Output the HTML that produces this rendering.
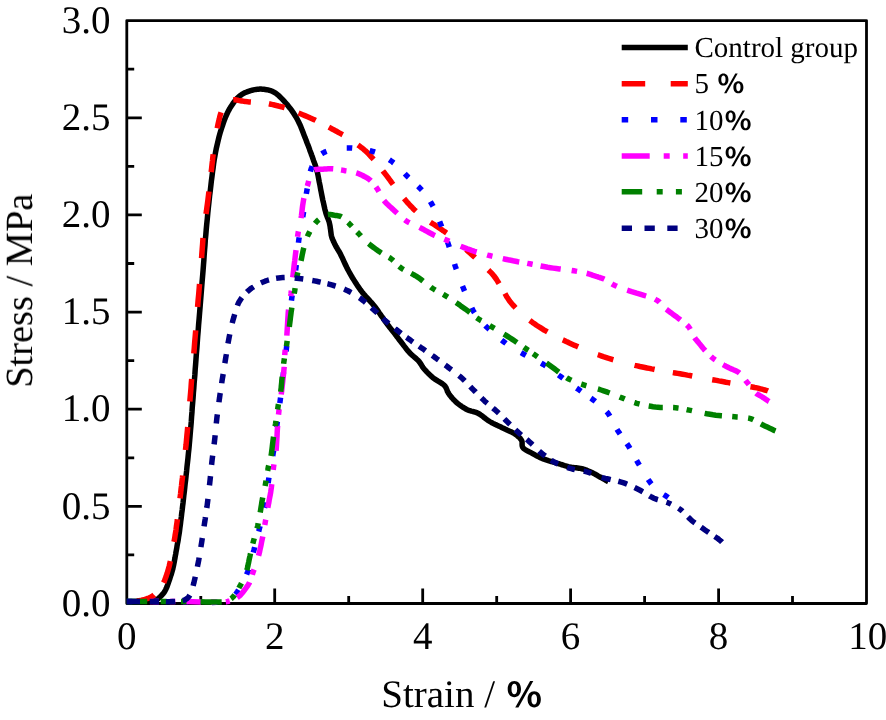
<!DOCTYPE html>
<html><head><meta charset="utf-8"><title>Stress-Strain</title>
<style>html,body{margin:0;padding:0;background:#fff}svg{display:block}text{text-rendering:geometricPrecision}</style></head>
<body>
<svg width="886" height="720" viewBox="0 0 886 720">
<rect width="886" height="720" fill="#fff"/>
<g stroke="#000" stroke-width="2.8" fill="none" stroke-linejoin="round">
<rect x="126.8" y="20.6" width="739.7" height="582.9"/>
<path d="M200.8 603.5v-7.4M274.7 603.5v-15M348.7 603.5v-7.4M422.7 603.5v-15M496.7 603.5v-7.4M570.6 603.5v-15M644.6 603.5v-7.4M718.6 603.5v-15M792.5 603.5v-7.4M126.8 554.9h7.4M126.8 506.4h15M126.8 457.8h7.4M126.8 409.2h15M126.8 360.6h7.4M126.8 312.1h15M126.8 263.5h7.4M126.8 214.9h15M126.8 166.3h7.4M126.8 117.8h15M126.8 69.2h7.4"/>
</g>
<g fill="none" stroke-linejoin="round" stroke-linecap="butt" stroke-width="5.5">
<path d="M126.8 601.5L127.2 601.5L128.3 601.5L129.9 601.5L131.9 601.5L134.0 601.5L136.2 601.5L138.3 601.5L140.0 601.5L141.3 601.5L142.7 601.5L144.0 601.5L145.3 601.5L146.5 601.5L147.8 601.4L148.9 601.4L150.0 601.3L150.8 601.2L151.5 601.2L152.2 601.1L152.9 601.0L153.5 600.9L154.2 600.8L154.8 600.6L155.4 600.4L156.0 600.1L156.6 599.8L157.2 599.4L157.8 599.0L158.3 598.5L158.9 598.0L159.4 597.5L160.0 597.0L160.6 596.4L161.3 595.7L161.9 595.0L162.6 594.3L163.2 593.6L163.8 592.8L164.4 592.0L164.9 591.1L165.5 590.0L166.1 588.8L166.6 587.6L167.1 586.4L167.6 585.1L168.1 583.7L168.5 582.4L169.0 581.0L169.6 579.4L170.1 577.8L170.6 576.1L171.2 574.5L171.7 572.7L172.2 571.0L172.7 569.3L173.1 567.5L173.5 565.6L173.9 563.7L174.3 561.8L174.6 559.9L175.0 557.9L175.3 556.0L175.7 554.0L176.0 552.0L176.4 549.9L176.8 547.8L177.1 545.7L177.5 543.6L177.9 541.4L178.3 539.2L178.6 536.9L179.0 534.5L179.5 531.3L179.9 527.9L180.4 524.4L180.8 520.8L181.3 517.1L181.7 513.4L182.2 509.8L182.6 506.1L183.1 502.3L183.5 498.6L183.9 494.8L184.4 491.0L184.8 487.1L185.2 483.3L185.7 479.4L186.1 475.4L186.6 471.1L187.0 466.8L187.5 462.4L188.0 457.9L188.4 453.5L188.9 449.0L189.3 444.5L189.7 440.0L190.1 435.3L190.5 430.6L190.9 425.9L191.3 421.2L191.6 416.4L192.0 411.7L192.3 406.9L192.7 402.2L193.1 397.5L193.4 392.9L193.8 388.2L194.1 383.6L194.5 378.9L194.9 374.2L195.2 369.4L195.6 364.5L196.0 359.0L196.4 353.5L196.9 347.8L197.3 342.1L197.7 336.4L198.2 330.6L198.6 324.8L199.1 319.0L199.6 312.9L200.1 306.8L200.6 300.5L201.1 294.3L201.6 288.1L202.1 281.9L202.6 275.9L203.1 270.0L203.5 264.8L203.9 259.8L204.2 254.8L204.6 249.9L205.0 245.0L205.3 240.1L205.8 235.1L206.2 230.0L206.7 224.5L207.3 218.8L207.8 213.1L208.4 207.3L209.0 201.6L209.6 196.0L210.3 190.5L210.9 185.2L211.4 180.8L212.0 176.4L212.5 172.2L213.1 168.0L213.6 163.9L214.2 159.8L214.9 155.9L215.6 152.1L216.2 148.9L216.9 145.8L217.6 142.8L218.3 139.9L219.0 137.0L219.8 134.1L220.6 131.3L221.5 128.5L222.4 125.8L223.3 123.2L224.2 120.6L225.2 118.0L226.3 115.4L227.4 113.0L228.6 110.6L229.8 108.4L231.0 106.5L232.2 104.7L233.4 102.9L234.7 101.2L236.1 99.5L237.5 98.0L238.9 96.6L240.4 95.4L241.8 94.4L243.2 93.6L244.7 92.8L246.2 92.2L247.7 91.6L249.2 91.1L250.7 90.6L252.2 90.2L253.5 89.9L254.8 89.6L256.0 89.4L257.3 89.3L258.6 89.2L259.8 89.1L261.1 89.1L262.4 89.2L263.8 89.3L265.2 89.5L266.6 89.7L268.0 89.9L269.4 90.3L270.8 90.7L272.2 91.3L273.5 91.9L275.1 92.8L276.6 93.9L278.1 95.1L279.6 96.5L281.0 97.9L282.5 99.4L283.9 100.9L285.3 102.5L286.9 104.3L288.4 106.2L290.0 108.2L291.5 110.2L293.0 112.3L294.4 114.5L295.8 116.7L297.1 119.0L298.4 121.5L299.7 124.2L300.9 126.9L302.0 129.7L303.1 132.6L304.2 135.4L305.3 138.1L306.3 140.8L307.2 143.2L308.2 145.6L309.1 148.0L309.9 150.4L310.8 152.7L311.6 155.0L312.4 157.1L313.1 159.2L313.6 160.7L314.1 162.0L314.6 163.3L315.0 164.5L315.5 165.8L315.9 167.1L316.4 168.5L316.8 170.1L317.5 172.7L318.1 175.7L318.7 178.9L319.3 182.2L320.0 185.5L320.6 188.9L321.2 192.1L321.8 195.1L322.3 197.6L322.8 200.1L323.4 202.5L323.9 204.9L324.4 207.2L324.9 209.4L325.5 211.5L326.0 213.5L326.4 214.8L326.9 216.0L327.3 217.2L327.8 218.3L328.2 219.3L328.6 220.4L329.0 221.4L329.3 222.5L329.5 223.5L329.7 224.4L329.9 225.4L330.1 226.3L330.2 227.2L330.3 228.2L330.5 229.1L330.6 230.0L330.7 230.8L330.8 231.6L330.9 232.4L331.0 233.2L331.1 234.0L331.2 234.8L331.4 235.7L331.6 236.5L331.9 237.6L332.3 238.7L332.8 239.8L333.3 241.0L333.8 242.1L334.4 243.3L334.9 244.4L335.5 245.5L336.0 246.5L336.6 247.5L337.2 248.4L337.7 249.4L338.3 250.4L338.9 251.4L339.6 252.4L340.2 253.6L341.1 255.4L342.1 257.4L343.1 259.6L344.1 261.8L345.1 264.0L346.2 266.3L347.3 268.6L348.5 270.8L349.8 273.2L351.2 275.6L352.6 278.0L354.1 280.4L355.6 282.8L357.1 285.1L358.7 287.4L360.3 289.7L362.0 291.9L363.7 294.0L365.5 296.1L367.4 298.1L369.2 300.1L371.0 302.2L372.8 304.2L374.5 306.3L376.1 308.3L377.6 310.4L379.0 312.5L380.5 314.6L381.9 316.7L383.4 318.7L384.8 320.8L386.3 322.8L387.8 324.8L389.2 326.7L390.7 328.6L392.2 330.5L393.7 332.4L395.2 334.3L396.6 336.2L398.1 338.1L399.5 340.0L400.9 341.8L402.4 343.7L403.8 345.6L405.2 347.4L406.6 349.2L408.0 350.9L409.4 352.5L410.6 353.7L411.9 354.9L413.1 356.0L414.4 357.1L415.6 358.1L416.8 359.2L417.9 360.2L418.9 361.3L419.6 362.2L420.2 363.0L420.7 363.9L421.3 364.8L421.8 365.6L422.3 366.5L422.9 367.4L423.6 368.3L424.6 369.5L425.7 370.7L426.8 371.9L428.0 373.1L429.2 374.3L430.5 375.5L431.8 376.7L433.1 377.8L434.5 378.9L436.1 379.9L437.7 380.9L439.4 381.9L441.0 382.9L442.5 383.9L443.8 384.9L444.9 386.0L445.5 386.8L446.0 387.7L446.4 388.6L446.8 389.5L447.1 390.4L447.4 391.3L447.9 392.2L448.4 393.1L449.2 394.3L450.1 395.5L451.1 396.7L452.1 398.0L453.2 399.2L454.4 400.4L455.5 401.5L456.7 402.6L457.9 403.6L459.2 404.6L460.5 405.6L461.8 406.5L463.2 407.4L464.5 408.2L465.9 409.0L467.3 409.7L468.6 410.3L469.9 410.7L471.2 411.1L472.6 411.4L473.9 411.8L475.2 412.1L476.6 412.6L477.9 413.2L479.4 414.0L480.8 415.0L482.3 416.0L483.7 417.2L485.2 418.3L486.6 419.4L488.1 420.5L489.7 421.5L491.4 422.5L493.1 423.4L494.9 424.3L496.8 425.1L498.6 426.0L500.4 426.8L502.2 427.7L503.9 428.5L505.5 429.3L507.0 430.0L508.6 430.7L510.2 431.4L511.7 432.1L513.1 432.9L514.5 433.7L515.7 434.5L516.6 435.2L517.5 435.9L518.3 436.6L519.1 437.3L519.9 438.0L520.5 438.8L521.1 439.6L521.6 440.4L521.9 441.2L522.1 442.1L522.1 443.0L522.1 443.9L522.1 444.9L522.2 445.8L522.4 446.6L522.8 447.4L523.5 448.3L524.5 449.1L525.6 449.9L526.9 450.6L528.2 451.3L529.5 451.9L530.9 452.6L532.2 453.3L533.6 454.1L535.0 454.9L536.5 455.7L538.0 456.4L539.5 457.2L541.0 457.9L542.5 458.6L544.0 459.2L545.4 459.7L546.9 460.2L548.3 460.7L549.8 461.1L551.3 461.5L552.8 461.9L554.3 462.4L555.8 462.8L557.5 463.3L559.3 463.9L561.1 464.5L562.9 465.0L564.7 465.6L566.5 466.1L568.3 466.6L570.0 467.0L571.5 467.3L573.0 467.5L574.6 467.7L576.1 467.8L577.5 468.0L579.0 468.2L580.4 468.4L581.8 468.7L583.1 469.0L584.3 469.4L585.5 469.8L586.7 470.2L587.8 470.7L589.0 471.2L590.2 471.7L591.3 472.2L592.4 472.7L593.5 473.3L594.6 473.9L595.7 474.5L596.8 475.1L597.9 475.8L598.9 476.4L600.0 477.0L601.2 477.7L602.5 478.4L603.9 479.2L605.2 479.9L606.4 480.6L607.4 481.2L608.1 481.6L608.3 481.7" stroke="#000"/>
<path d="M126.8 601.5L127.1 601.5L127.9 601.5L129.2 601.5L130.7 601.4L132.3 601.4L134.0 601.3L135.6 601.1L137.0 601.0L138.2 600.8L139.3 600.6L140.5 600.4L141.7 600.2L142.8 599.9L143.9 599.6L145.0 599.3L146.0 599.0L146.8 598.7L147.6 598.5L148.4 598.2L149.2 597.9L149.9 597.6L150.6 597.3L151.3 596.9L152.0 596.5L152.7 596.0L153.3 595.5L154.0 595.0L154.6 594.4L155.2 593.8L155.8 593.2L156.4 592.6L157.0 592.0L157.6 591.4L158.2 590.8L158.7 590.3L159.3 589.7L159.8 589.1L160.4 588.4L160.9 587.7L161.4 587.0L162.0 586.0L162.5 585.0L163.1 584.0L163.6 582.8L164.1 581.7L164.6 580.5L165.0 579.2L165.5 578.0L166.1 576.5L166.6 574.9L167.2 573.2L167.7 571.5L168.2 569.7L168.7 568.0L169.2 566.2L169.6 564.5L170.0 562.7L170.4 561.0L170.8 559.2L171.1 557.4L171.5 555.6L171.8 553.7L172.2 551.9L172.5 550.0L172.9 548.0L173.3 545.9L173.6 543.9L174.0 541.9L174.4 539.8L174.8 537.6L175.1 535.3L175.5 533.0L176.0 529.8L176.4 526.5L176.9 523.1L177.4 519.5L177.8 515.9L178.3 512.3L178.8 508.6L179.2 505.0L179.7 501.2L180.1 497.4L180.6 493.6L181.0 489.7L181.5 485.8L181.9 481.9L182.4 478.0L182.8 474.0L183.3 469.8L183.7 465.7L184.2 461.5L184.7 457.2L185.2 453.0L185.6 448.7L186.1 444.4L186.5 440.0L186.9 435.4L187.4 430.6L187.8 425.9L188.2 421.1L188.6 416.3L189.0 411.5L189.4 406.8L189.8 402.0L190.2 397.3L190.6 392.7L191.0 388.1L191.3 383.5L191.7 378.8L192.1 374.1L192.5 369.4L192.9 364.5L193.3 359.0L193.8 353.5L194.3 347.8L194.7 342.1L195.2 336.4L195.7 330.6L196.1 324.8L196.6 319.0L197.1 312.9L197.6 306.8L198.1 300.5L198.7 294.3L199.2 288.1L199.7 281.9L200.2 275.9L200.7 270.0L201.1 264.7L201.5 259.5L201.8 254.3L202.2 249.2L202.6 244.2L202.9 239.3L203.3 234.6L203.8 230.0L204.2 226.5L204.6 223.2L205.1 220.1L205.5 217.0L206.0 213.9L206.5 210.8L206.9 207.5L207.4 204.0L208.0 199.3L208.6 194.3L209.2 189.1L209.8 183.8L210.4 178.6L211.0 173.4L211.6 168.5L212.1 163.9L212.5 160.6L212.8 157.4L213.2 154.4L213.5 151.4L213.8 148.5L214.2 145.7L214.6 142.8L215.0 140.0L215.4 137.4L215.9 134.8L216.4 132.3L216.9 129.7L217.4 127.3L217.9 124.9L218.4 122.6L218.9 120.5L219.3 119.0L219.6 117.6L219.9 116.2L220.3 114.8L220.7 113.5L221.1 112.3L221.5 111.1L222.0 110.0L222.4 109.1L222.9 108.3L223.4 107.5L223.9 106.7L224.4 106.0L225.0 105.3L225.6 104.6L226.3 104.0L227.0 103.3L227.8 102.7L228.7 102.1L229.6 101.5L230.5 101.0L231.4 100.5L232.4 100.2L233.3 99.9L234.3 99.8L235.3 99.8L236.3 99.9L237.3 100.1L238.4 100.4L239.5 100.6L240.5 100.8L241.6 101.0L242.7 101.1L243.9 101.3L245.0 101.4L246.2 101.6L247.4 101.7L248.6 101.9L249.8 102.0L251.0 102.1L252.4 102.2L253.7 102.3L255.2 102.4L256.6 102.4L258.0 102.5L259.4 102.6L260.7 102.7L262.0 102.8L262.9 102.9L263.8 103.0L264.7 103.1L265.5 103.2L266.4 103.4L267.2 103.5L268.0 103.6L268.9 103.8L269.8 104.0L270.7 104.2L271.6 104.4L272.6 104.6L273.5 104.8L274.4 105.0L275.4 105.3L276.3 105.5L277.3 105.7L278.3 106.0L279.4 106.2L280.4 106.5L281.5 106.8L282.5 107.0L283.5 107.3L284.4 107.6L285.1 107.8L285.8 108.1L286.5 108.3L287.1 108.6L287.7 108.8L288.4 109.1L289.2 109.4L290.0 109.7L291.7 110.4L293.7 111.1L295.8 112.0L298.1 112.9L300.4 113.8L302.7 114.7L304.9 115.6L307.0 116.5L308.7 117.2L310.4 118.0L312.0 118.7L313.6 119.4L315.1 120.1L316.7 120.9L318.3 121.7L320.0 122.5L321.9 123.5L323.8 124.4L325.8 125.5L327.7 126.5L329.7 127.6L331.6 128.7L333.6 129.7L335.5 130.8L337.4 131.8L339.3 132.9L341.2 133.9L343.1 134.9L344.9 136.0L346.7 137.0L348.4 138.0L350.0 139.0L351.1 139.8L352.2 140.5L353.2 141.3L354.2 142.0L355.1 142.8L356.1 143.5L357.0 144.3L358.0 145.0L359.0 145.7L359.9 146.4L360.8 147.1L361.7 147.8L362.7 148.5L363.6 149.3L364.5 150.1L365.5 150.9L366.7 152.0L367.8 153.1L369.0 154.3L370.2 155.6L371.3 156.9L372.5 158.2L373.8 159.6L375.0 161.0L376.6 162.8L378.2 164.8L379.8 166.9L381.5 169.0L383.1 171.2L384.8 173.3L386.4 175.4L387.9 177.4L389.2 179.2L390.5 180.9L391.7 182.6L393.0 184.3L394.2 186.0L395.4 187.6L396.7 189.3L398.0 191.0L399.4 192.8L400.9 194.6L402.3 196.4L403.8 198.2L405.3 200.0L406.8 201.8L408.4 203.5L409.9 205.2L411.4 206.7L412.8 208.2L414.3 209.7L415.8 211.1L417.3 212.5L418.8 213.8L420.4 215.2L422.0 216.5L423.8 217.8L425.6 219.1L427.5 220.4L429.4 221.6L431.3 222.8L433.2 224.0L435.1 225.2L437.0 226.5L438.9 227.8L440.7 229.0L442.6 230.3L444.5 231.5L446.3 232.8L448.2 234.1L450.1 235.5L452.0 237.0L454.2 238.8L456.5 240.8L458.9 242.8L461.2 244.9L463.5 247.0L465.7 249.1L467.9 251.1L470.0 253.0L471.6 254.5L473.2 255.9L474.7 257.2L476.2 258.6L477.6 259.9L479.1 261.2L480.5 262.6L482.0 264.0L483.5 265.5L485.1 266.9L486.7 268.4L488.2 269.9L489.8 271.4L491.3 272.9L492.7 274.4L494.0 276.0L495.1 277.5L496.2 279.0L497.2 280.6L498.2 282.2L499.1 283.7L500.1 285.3L501.0 286.9L502.0 288.5L503.0 290.1L503.9 291.7L504.9 293.4L505.8 295.0L506.7 296.7L507.8 298.3L508.8 299.9L510.0 301.5L511.4 303.2L512.9 305.0L514.5 306.7L516.1 308.4L517.8 310.1L519.5 311.8L521.2 313.4L523.0 315.0L524.8 316.6L526.7 318.1L528.6 319.6L530.6 321.0L532.5 322.4L534.5 323.8L536.5 325.2L538.5 326.5L540.4 327.7L542.3 328.9L544.2 330.1L546.2 331.2L548.1 332.3L550.1 333.4L552.0 334.4L554.0 335.5L556.0 336.5L558.0 337.6L560.1 338.6L562.1 339.6L564.2 340.5L566.2 341.5L568.3 342.4L570.4 343.4L572.6 344.4L574.7 345.4L576.9 346.3L579.1 347.3L581.3 348.3L583.6 349.2L585.8 350.1L588.0 351.0L590.2 351.9L592.4 352.7L594.5 353.5L596.7 354.3L598.9 355.0L601.1 355.8L603.3 356.6L605.6 357.3L608.0 358.1L610.4 358.8L612.8 359.6L615.2 360.3L617.6 361.0L620.1 361.7L622.6 362.4L625.0 363.0L627.5 363.6L629.9 364.2L632.4 364.8L634.9 365.4L637.4 365.9L639.9 366.5L642.4 367.0L644.8 367.5L647.1 368.0L649.4 368.4L651.6 368.9L653.9 369.3L656.2 369.8L658.4 370.2L660.7 370.6L663.0 371.0L665.4 371.4L667.8 371.8L670.3 372.2L672.7 372.6L675.2 373.0L677.6 373.4L680.1 373.8L682.5 374.2L684.9 374.6L687.4 375.1L689.8 375.5L692.3 376.0L694.7 376.4L697.1 376.9L699.6 377.4L702.0 377.8L704.4 378.2L706.8 378.7L709.3 379.1L711.7 379.6L714.1 380.0L716.5 380.4L718.9 380.9L721.3 381.3L723.7 381.7L726.0 382.2L728.3 382.6L730.7 383.0L733.0 383.5L735.3 383.9L737.7 384.4L740.0 384.8L742.4 385.2L744.9 385.7L747.4 386.1L749.9 386.6L752.4 387.0L754.7 387.5L757.0 387.9L759.0 388.4L760.4 388.8L761.9 389.2L763.4 389.6L764.8 390.0L766.1 390.4L767.1 390.7L767.8 390.9L768.0 391.0" stroke="#ff0000" stroke-dasharray="0 9.9 18.8 15.5 22.8 19.5 22.9 21 23 25.6 23.2 25.5 22.6 25.7 23.2 23.5 23 25.9 20.3 24.1 22.7 19.6 17.9 26.3 16.4 18.2 17.8 18.1 16.2 14.9 18.7 14.8 15.8 18.4 21.4 14.8 16.9 17.9 17.3 18.3 19.5 25.5 12.1 18.3 17.3 11.5 17.9 19 21.1 17.3 16.9 21.1 16.4 21.9 20.5 18.5 19.7 20.3 18.5 20.4 18 2000"/>
<path d="M126.8 601.5L128.4 601.5L132.7 601.5L139.2 601.5L147.0 601.5L155.7 601.5L164.5 601.5L172.8 601.5L180.0 601.5L186.1 601.6L192.4 601.8L198.9 602.0L205.2 602.2L211.2 602.4L216.6 602.3L221.3 602.1L225.0 601.5L226.2 601.2L227.3 600.8L228.2 600.4L229.1 600.0L229.8 599.6L230.6 599.1L231.3 598.6L232.0 598.0L232.7 597.4L233.4 596.8L234.0 596.2L234.6 595.5L235.2 594.8L235.8 594.1L236.3 593.3L236.9 592.5L237.6 591.5L238.2 590.5L238.9 589.4L239.5 588.2L240.1 587.1L240.7 585.9L241.4 584.7L242.0 583.5L242.7 582.2L243.4 580.8L244.1 579.5L244.8 578.1L245.6 576.7L246.3 575.2L246.9 573.7L247.6 572.0L248.5 569.6L249.3 567.0L250.1 564.2L250.9 561.4L251.7 558.4L252.5 555.5L253.2 552.6L254.0 549.8L254.7 547.1L255.4 544.5L256.1 541.8L256.8 539.1L257.5 536.5L258.1 533.8L258.8 531.2L259.4 528.7L260.0 526.4L260.5 523.9L261.1 521.5L261.6 519.2L262.1 516.9L262.6 514.7L263.1 512.8L263.5 511.0L263.7 510.1L264.0 509.4L264.2 508.7L264.4 508.1L264.6 507.4L264.8 506.7L265.0 505.9L265.2 505.0L265.6 502.7L266.0 499.9L266.4 496.8L266.8 493.5L267.2 490.0L267.6 486.6L268.1 483.3L268.5 480.3L268.9 477.9L269.3 475.5L269.7 473.2L270.1 470.9L270.5 468.7L270.9 466.5L271.3 464.2L271.7 462.0L272.1 459.9L272.4 457.7L272.8 455.7L273.1 453.6L273.5 451.5L273.8 449.4L274.2 447.2L274.5 445.0L274.8 442.5L275.2 440.0L275.5 437.5L275.8 434.9L276.1 432.3L276.4 429.6L276.7 427.0L277.0 424.3L277.4 421.4L277.8 418.5L278.2 415.5L278.6 412.5L279.0 409.5L279.4 406.5L279.8 403.4L280.2 400.4L280.6 397.3L281.0 394.1L281.3 391.0L281.7 387.8L282.1 384.6L282.4 381.4L282.8 378.2L283.2 375.0L283.6 371.7L284.0 368.4L284.4 365.1L284.8 361.8L285.2 358.5L285.6 355.2L286.0 351.9L286.4 348.6L286.8 345.3L287.1 341.9L287.5 338.6L287.8 335.2L288.2 331.9L288.5 328.6L288.9 325.3L289.2 322.0L289.5 318.9L289.8 316.0L290.1 313.0L290.4 310.0L290.7 307.1L291.1 304.1L291.4 301.0L291.8 297.9L292.3 294.3L292.8 290.5L293.3 286.7L293.9 282.8L294.5 278.9L295.0 275.1L295.5 271.3L296.0 267.5L296.4 264.0L296.7 260.5L297.1 257.0L297.4 253.5L297.7 250.1L298.0 246.7L298.4 243.3L298.8 239.9L299.3 236.6L299.8 233.4L300.4 230.2L300.9 227.0L301.5 223.8L302.1 220.6L302.7 217.4L303.2 214.3L303.7 211.3L304.1 208.4L304.6 205.5L305.0 202.5L305.4 199.6L305.9 196.8L306.3 193.9L306.8 191.0L307.3 188.1L307.8 185.2L308.2 182.2L308.7 179.3L309.3 176.4L309.8 173.6L310.5 171.1L311.2 168.7L311.8 167.1L312.3 165.6L312.9 164.1L313.5 162.8L314.2 161.5L314.9 160.2L315.7 159.1L316.5 158.0L317.3 157.1L318.2 156.3L319.1 155.5L320.1 154.8L321.1 154.1L322.1 153.5L323.2 152.9L324.3 152.3L325.5 151.7L326.8 151.2L328.1 150.7L329.4 150.2L330.7 149.8L332.1 149.4L333.6 149.1L335.0 148.8L336.7 148.5L338.6 148.3L340.4 148.1L342.3 148.0L344.3 147.9L346.1 147.9L348.0 147.9L349.7 147.9L351.1 147.9L352.4 148.0L353.7 148.0L354.9 148.1L356.2 148.2L357.4 148.4L358.7 148.5L360.0 148.7L361.5 148.9L363.1 149.2L364.7 149.5L366.3 149.8L367.9 150.1L369.5 150.5L371.0 150.9L372.5 151.3L373.8 151.7L375.0 152.1L376.2 152.6L377.4 153.1L378.5 153.6L379.7 154.1L380.8 154.7L382.0 155.3L383.2 156.0L384.5 156.7L385.7 157.4L387.0 158.2L388.2 159.0L389.4 159.8L390.6 160.6L391.7 161.4L392.7 162.1L393.6 162.9L394.6 163.6L395.5 164.3L396.3 165.1L397.2 165.9L398.1 166.7L399.0 167.5L400.0 168.4L400.9 169.4L401.8 170.4L402.8 171.4L403.7 172.4L404.7 173.5L405.7 174.6L406.8 175.7L408.3 177.2L410.0 178.7L411.7 180.4L413.5 182.0L415.3 183.7L417.0 185.3L418.6 186.8L420.0 188.2L420.9 189.1L421.7 190.0L422.5 190.8L423.2 191.6L423.9 192.4L424.6 193.2L425.3 194.1L426.0 195.0L426.8 196.0L427.5 197.1L428.3 198.2L429.0 199.4L429.7 200.5L430.4 201.7L431.1 202.8L431.8 204.0L432.4 205.2L433.1 206.3L433.7 207.5L434.3 208.7L434.8 209.9L435.4 211.1L436.0 212.3L436.5 213.5L437.0 214.8L437.5 216.0L438.0 217.3L438.5 218.5L439.0 219.8L439.5 221.2L440.0 222.6L440.6 224.1L441.5 226.3L442.4 228.7L443.4 231.2L444.4 233.8L445.4 236.4L446.5 239.1L447.5 241.8L448.4 244.4L449.3 247.1L450.2 249.9L451.1 252.7L451.9 255.4L452.7 258.2L453.6 261.0L454.5 263.8L455.4 266.6L456.4 269.4L457.3 272.1L458.3 274.9L459.3 277.6L460.3 280.3L461.4 283.1L462.4 285.8L463.5 288.5L464.6 291.3L465.8 294.2L466.9 297.1L468.1 300.0L469.3 302.8L470.6 305.5L471.8 308.0L473.0 310.3L473.9 311.8L474.7 313.1L475.6 314.4L476.4 315.6L477.3 316.7L478.2 317.8L479.1 318.9L480.0 320.0L480.8 321.0L481.7 321.9L482.5 322.8L483.3 323.7L484.2 324.6L485.1 325.5L486.1 326.5L487.2 327.5L488.9 329.1L490.8 330.8L492.7 332.6L494.8 334.5L497.0 336.4L499.2 338.2L501.5 340.0L503.7 341.7L506.0 343.4L508.4 345.0L510.9 346.6L513.3 348.1L515.8 349.6L518.4 351.1L520.9 352.6L523.4 354.0L525.9 355.4L528.4 356.7L531.0 358.0L533.6 359.2L536.1 360.5L538.6 361.8L541.1 363.1L543.5 364.5L545.7 365.9L547.9 367.4L550.1 368.9L552.2 370.4L554.3 371.9L556.3 373.5L558.5 375.1L560.6 376.6L562.9 378.2L565.1 379.9L567.4 381.5L569.8 383.2L572.0 384.8L574.3 386.5L576.5 388.1L578.7 389.6L580.6 390.9L582.5 392.3L584.4 393.6L586.2 394.9L588.0 396.1L589.8 397.4L591.4 398.5L593.0 399.7L594.1 400.5L595.2 401.3L596.2 402.1L597.2 402.8L598.2 403.6L599.1 404.4L600.1 405.2L601.0 406.0L602.0 406.9L602.9 407.7L603.8 408.6L604.7 409.5L605.6 410.4L606.5 411.5L607.4 412.5L608.3 413.7L609.5 415.5L610.7 417.5L611.9 419.7L613.1 422.0L614.3 424.3L615.5 426.6L616.7 428.9L618.0 431.0L619.3 432.9L620.6 434.8L621.9 436.7L623.3 438.5L624.6 440.3L625.9 442.2L627.2 444.1L628.5 446.0L629.7 448.0L630.9 450.1L632.1 452.2L633.2 454.3L634.4 456.4L635.6 458.5L636.8 460.7L638.0 462.8L639.4 465.2L640.9 467.7L642.3 470.2L643.9 472.7L645.4 475.2L646.8 477.5L648.3 479.7L649.7 481.7L650.6 483.0L651.5 484.1L652.4 485.2L653.3 486.3L654.2 487.2L655.1 488.2L656.0 489.1L657.0 490.0L658.1 490.9L659.2 491.7L660.4 492.5L661.7 493.3L662.9 494.1L664.0 494.8L665.1 495.4L666.0 496.0L666.5 496.4L667.1 496.7L667.6 497.1L668.1 497.4L668.5 497.7L668.9 498.0L669.1 498.1L669.2 498.2" stroke="#0000ff" stroke-dasharray="5.5 20.9 5.5 23.9 5.5 23.9 5.5 20.5 5.5 17.4 5.5 17.5 5.5 16.2 5.5 19 5.5 19.4 5.5 22.1 5.5 23.6 5.5 18.6 5.5 20.1 5.5 21.1 5.5 21.2 5.5 18.7 5.5 25.2 5.5 22.2 5.5 20.5 5.5 18 5.5 17.3 5.5 16.1 5.5 20.6 5.5 17.7 5.5 16.3 5.5 15.4 5.5 12.7 5.5 14.3 5.5 16.5 5.5 16.3 5.5 17.8 5.5 17.9 5.5 18.3 5.5 16.9 5.5 16.3 5.5 17.7 5.5 17.2 5.5 15.5 5.5 16.8 5.5 12 5.5 15.3 5.5 15.1 5.5 11.9 5.5 13.9 5.5 16.8 5.5 16.3 5.5 2000"/>
<path d="M126.8 601.5L128.4 601.5L132.7 601.5L139.1 601.5L146.9 601.5L155.6 601.5L164.4 601.5L172.8 601.5L180.0 601.5L186.4 601.6L193.1 601.7L200.0 601.9L206.8 602.0L213.2 602.1L218.9 602.1L223.7 601.9L227.4 601.5L228.4 601.3L229.2 601.1L229.9 600.9L230.6 600.6L231.1 600.4L231.7 600.1L232.3 599.8L233.0 599.5L233.8 599.2L234.6 598.8L235.4 598.4L236.2 598.0L237.0 597.6L237.8 597.1L238.6 596.6L239.3 596.1L240.0 595.5L240.7 594.8L241.4 594.0L242.0 593.3L242.7 592.5L243.3 591.6L243.9 590.8L244.5 590.0L245.2 589.1L245.8 588.3L246.4 587.4L247.1 586.5L247.7 585.6L248.3 584.7L248.9 583.7L249.4 582.7L249.9 581.5L250.4 580.3L250.9 579.0L251.3 577.6L251.8 576.3L252.2 575.0L252.6 573.7L253.0 572.4L253.4 571.3L253.8 570.2L254.2 569.2L254.5 568.1L254.9 567.1L255.3 566.1L255.6 565.0L256.0 564.0L256.3 563.0L256.6 562.1L257.0 561.1L257.3 560.2L257.6 559.3L257.9 558.2L258.2 557.2L258.5 556.0L259.0 554.0L259.6 551.7L260.1 549.3L260.7 546.7L261.2 544.2L261.7 541.6L262.2 539.1L262.7 536.8L263.1 534.9L263.4 533.1L263.7 531.4L264.0 529.6L264.3 527.9L264.6 526.2L264.9 524.4L265.2 522.6L265.5 520.7L265.9 518.7L266.2 516.7L266.6 514.7L266.9 512.7L267.3 510.7L267.6 508.7L268.0 506.7L268.4 504.6L268.8 502.6L269.1 500.6L269.5 498.5L269.9 496.5L270.3 494.4L270.7 492.2L271.0 490.0L271.4 487.3L271.7 484.5L272.0 481.6L272.3 478.7L272.6 475.8L272.9 472.9L273.2 470.1L273.5 467.4L273.8 465.2L274.1 463.2L274.5 461.2L274.8 459.3L275.1 457.3L275.4 455.3L275.7 453.2L276.0 451.0L276.3 448.1L276.5 445.0L276.7 441.7L276.9 438.4L277.1 435.1L277.2 431.9L277.4 428.8L277.6 426.0L277.7 424.1L277.9 422.3L278.0 420.6L278.1 418.9L278.3 417.2L278.4 415.6L278.6 413.9L278.8 412.1L279.0 410.0L279.3 408.0L279.6 405.9L279.9 403.8L280.3 401.6L280.6 399.4L280.9 397.1L281.2 394.7L281.6 391.5L282.0 388.0L282.4 384.4L282.8 380.7L283.2 377.0L283.6 373.4L283.9 370.1L284.2 367.0L284.3 365.0L284.4 363.1L284.5 361.3L284.6 359.6L284.6 357.9L284.7 356.2L284.8 354.5L284.9 352.7L285.1 350.7L285.3 348.7L285.5 346.7L285.8 344.7L286.1 342.6L286.3 340.5L286.6 338.3L286.8 336.0L287.0 333.0L287.2 329.8L287.4 326.4L287.6 323.0L287.8 319.6L288.0 316.3L288.2 313.1L288.5 310.1L288.8 307.9L289.1 305.8L289.4 303.7L289.7 301.7L290.1 299.7L290.4 297.8L290.7 295.8L291.0 293.8L291.2 291.8L291.5 289.8L291.7 287.9L291.9 286.0L292.0 284.0L292.2 281.9L292.5 279.8L292.7 277.6L293.1 274.5L293.5 271.1L293.9 267.6L294.3 263.9L294.8 260.3L295.2 256.8L295.6 253.4L296.0 250.3L296.3 248.1L296.5 246.0L296.7 244.0L296.9 242.1L297.1 240.2L297.4 238.3L297.6 236.4L297.9 234.4L298.2 232.4L298.6 230.5L299.0 228.5L299.4 226.6L299.8 224.6L300.2 222.6L300.6 220.6L301.0 218.5L301.4 216.1L301.7 213.6L302.0 211.0L302.3 208.4L302.6 205.9L303.0 203.3L303.4 200.9L303.8 198.5L304.3 196.5L304.8 194.6L305.3 192.7L305.9 190.8L306.4 189.0L307.0 187.2L307.5 185.5L308.0 183.8L308.3 182.5L308.6 181.2L308.9 180.0L309.1 178.8L309.4 177.6L309.7 176.5L310.1 175.5L310.5 174.5L310.8 173.8L311.2 173.2L311.6 172.5L312.0 172.0L312.4 171.4L312.9 170.9L313.4 170.5L314.0 170.1L314.9 169.7L315.9 169.5L317.0 169.4L318.2 169.3L319.4 169.3L320.6 169.3L321.8 169.3L323.0 169.2L324.2 169.1L325.5 169.0L326.7 168.9L328.0 168.8L329.2 168.7L330.5 168.7L331.7 168.7L333.0 168.7L334.3 168.8L335.6 169.0L336.9 169.2L338.2 169.4L339.6 169.6L340.9 169.9L342.2 170.1L343.6 170.4L345.1 170.7L346.7 170.9L348.4 171.2L350.0 171.5L351.6 171.7L353.2 172.1L354.7 172.4L356.1 172.8L357.1 173.1L358.1 173.5L359.1 173.9L360.0 174.3L360.9 174.7L361.7 175.1L362.6 175.5L363.5 176.0L364.4 176.5L365.3 176.9L366.1 177.4L367.0 177.9L367.8 178.4L368.7 179.0L369.5 179.6L370.3 180.3L371.2 181.2L372.2 182.1L373.1 183.2L373.9 184.3L374.8 185.4L375.7 186.5L376.5 187.7L377.3 188.9L378.1 190.2L378.9 191.6L379.7 193.1L380.4 194.6L381.2 196.1L381.9 197.5L382.7 198.9L383.6 200.1L384.4 201.1L385.2 202.0L386.0 202.9L386.9 203.7L387.8 204.6L388.6 205.4L389.5 206.2L390.4 207.0L391.3 207.8L392.1 208.6L393.0 209.4L393.9 210.2L394.7 211.0L395.6 211.9L396.6 212.7L397.5 213.5L398.6 214.5L399.7 215.5L400.8 216.5L401.9 217.5L403.1 218.5L404.3 219.5L405.5 220.4L406.8 221.3L408.2 222.1L409.7 222.9L411.2 223.6L412.8 224.3L414.4 225.0L416.0 225.7L417.7 226.4L419.3 227.2L421.2 228.2L423.1 229.2L425.0 230.3L427.0 231.4L429.0 232.5L430.9 233.5L432.8 234.5L434.7 235.4L436.2 236.1L437.7 236.7L439.2 237.3L440.6 237.8L442.1 238.4L443.5 238.9L445.0 239.5L446.5 240.1L448.1 240.8L449.8 241.5L451.4 242.3L453.1 243.0L454.8 243.8L456.5 244.5L458.2 245.3L460.0 246.0L462.0 246.8L464.0 247.6L466.1 248.4L468.2 249.2L470.4 249.9L472.5 250.7L474.5 251.4L476.5 252.0L478.2 252.5L479.8 253.0L481.3 253.4L482.9 253.8L484.4 254.2L486.1 254.6L487.7 255.1L489.5 255.5L491.9 256.1L494.5 256.7L497.1 257.3L499.8 257.9L502.6 258.6L505.4 259.2L508.1 259.8L510.7 260.3L513.1 260.8L515.5 261.2L517.9 261.7L520.2 262.1L522.6 262.5L524.9 262.9L527.3 263.4L529.7 263.8L532.2 264.3L534.8 264.8L537.3 265.3L539.9 265.8L542.4 266.3L545.0 266.8L547.6 267.3L550.3 267.7L553.2 268.1L556.3 268.5L559.4 268.9L562.5 269.3L565.6 269.7L568.6 270.0L571.4 270.4L574.0 270.8L575.7 271.1L577.4 271.4L579.0 271.6L580.5 271.9L582.0 272.2L583.5 272.5L584.9 272.9L586.3 273.2L587.5 273.5L588.6 273.8L589.7 274.2L590.7 274.5L591.8 274.9L592.9 275.3L593.9 275.6L595.0 276.0L596.1 276.4L597.2 276.7L598.4 277.1L599.5 277.4L600.6 277.8L601.7 278.2L602.9 278.6L604.0 279.1L605.2 279.7L606.5 280.4L607.7 281.2L608.9 282.0L610.1 282.8L611.4 283.5L612.7 284.3L614.0 285.0L615.5 285.7L617.1 286.4L618.6 287.0L620.3 287.6L621.9 288.3L623.6 288.9L625.3 289.5L627.1 290.1L629.3 290.8L631.7 291.6L634.1 292.3L636.6 293.1L639.1 293.8L641.6 294.6L643.9 295.3L646.0 296.0L647.6 296.5L649.0 297.0L650.5 297.4L651.9 297.9L653.2 298.4L654.6 298.9L655.8 299.6L657.1 300.3L658.3 301.2L659.5 302.2L660.6 303.4L661.7 304.5L662.8 305.7L663.9 306.9L664.9 308.0L666.0 309.0L666.9 309.7L667.8 310.5L668.7 311.1L669.5 311.8L670.4 312.4L671.3 313.0L672.1 313.6L673.0 314.3L673.9 315.0L674.8 315.6L675.7 316.3L676.6 316.9L677.5 317.6L678.4 318.3L679.3 319.0L680.2 319.7L681.2 320.5L682.3 321.3L683.4 322.1L684.5 322.9L685.6 323.8L686.6 324.7L687.6 325.7L688.5 326.7L689.4 327.9L690.2 329.2L690.9 330.6L691.6 332.0L692.3 333.5L693.0 334.9L693.7 336.2L694.4 337.4L695.0 338.3L695.7 339.2L696.4 340.0L697.0 340.8L697.7 341.6L698.4 342.4L699.0 343.2L699.7 344.0L700.4 344.8L701.0 345.6L701.6 346.4L702.3 347.2L702.9 348.0L703.6 348.8L704.3 349.6L705.0 350.4L705.9 351.4L706.8 352.3L707.7 353.3L708.7 354.3L709.7 355.3L710.7 356.3L711.7 357.2L712.8 358.1L714.0 359.0L715.2 359.9L716.4 360.7L717.7 361.5L718.9 362.3L720.2 363.1L721.5 363.8L722.7 364.5L723.8 365.1L724.8 365.6L725.8 366.2L726.9 366.7L727.9 367.2L728.9 367.7L730.0 368.2L731.0 368.7L732.0 369.2L733.1 369.6L734.1 370.1L735.2 370.5L736.2 371.0L737.2 371.5L738.2 372.1L739.2 372.8L740.3 373.7L741.3 374.8L742.2 375.9L743.2 377.1L744.1 378.4L745.1 379.7L746.0 381.0L747.0 382.2L748.1 383.5L749.2 385.0L750.3 386.4L751.4 387.9L752.5 389.3L753.6 390.6L754.7 391.8L755.8 392.9L756.6 393.6L757.4 394.2L758.2 394.7L759.1 395.1L759.9 395.6L760.7 396.0L761.5 396.5L762.3 397.0L763.2 397.6L764.3 398.3L765.4 399.1L766.5 399.8L767.5 400.5L768.3 401.0L768.8 401.4L769.0 401.5" stroke="#ff00ff" stroke-dasharray="0 23.2 9 10.8 5.5 7.8 18 9.8 5.5 9.4 4 8.2 19.9 8 5.5 14.5 19.7 11.7 5.5 12.1 23.9 14.3 5.5 13.8 25.1 11.2 5.5 14.8 27.9 11.6 5.5 14.1 26 13.7 5.5 13.5 27.5 13.3 5.5 13.5 20.2 12.5 5.5 12.6 19.1 7.9 5.5 10 16.7 8 5.5 10.4 18.3 10.1 5.5 11.1 17.5 10 5.5 12.3 17 10.9 5.5 10.6 16.8 8.1 5.5 8.1 20.4 11 5.5 9.8 18.7 8.9 5.5 11 19.8 9.5 5.5 9.7 17.8 8.1 5.5 9.5 16.8 8.2 5.5 9.1 18.5 9.5 5.5 11.1 15.8 2000"/>
<path d="M126.8 601.5L128.4 601.5L132.7 601.5L139.2 601.5L147.0 601.5L155.7 601.5L164.5 601.5L172.8 601.5L180.0 601.5L186.1 601.6L192.7 601.7L199.3 601.8L205.8 602.0L211.9 602.0L217.3 602.0L221.7 601.9L225.0 601.5L225.7 601.4L226.3 601.2L226.9 601.0L227.3 600.9L227.7 600.7L228.1 600.5L228.5 600.3L229.0 600.0L229.5 599.7L230.0 599.4L230.5 599.1L231.1 598.7L231.6 598.3L232.1 597.9L232.6 597.4L233.1 596.9L234.0 595.8L234.9 594.6L235.8 593.1L236.8 591.6L237.7 590.0L238.6 588.5L239.4 587.0L240.2 585.6L240.8 584.6L241.3 583.6L241.8 582.7L242.3 581.7L242.7 580.8L243.2 579.9L243.6 579.0L244.0 578.0L244.4 577.1L244.8 576.1L245.1 575.2L245.5 574.3L245.8 573.4L246.1 572.4L246.5 571.3L246.8 570.2L247.3 568.4L247.8 566.4L248.2 564.3L248.7 562.1L249.1 559.9L249.6 557.7L250.1 555.5L250.5 553.5L250.9 551.9L251.2 550.3L251.6 548.7L252.0 547.2L252.3 545.7L252.7 544.2L253.1 542.6L253.5 541.0L254.0 539.2L254.5 537.3L255.1 535.4L255.6 533.5L256.2 531.6L256.7 529.6L257.2 527.8L257.7 525.9L258.1 524.2L258.4 522.5L258.7 520.9L259.0 519.3L259.3 517.6L259.6 516.0L259.9 514.3L260.2 512.6L260.5 510.8L260.8 508.9L261.1 507.0L261.4 505.1L261.7 503.2L262.0 501.3L262.4 499.4L262.7 497.5L263.0 495.7L263.4 493.9L263.8 492.2L264.1 490.4L264.5 488.6L264.9 486.9L265.3 485.1L265.6 483.3L265.9 481.4L266.2 479.5L266.5 477.6L266.8 475.7L267.1 473.8L267.4 471.9L267.8 470.0L268.1 468.2L268.4 466.6L268.8 465.1L269.2 463.7L269.6 462.2L269.9 460.7L270.3 459.2L270.7 457.7L271.0 456.0L271.4 453.8L271.7 451.4L272.0 449.0L272.3 446.5L272.6 443.9L272.9 441.5L273.2 439.1L273.5 436.8L273.8 435.0L274.0 433.3L274.3 431.7L274.5 430.1L274.8 428.5L275.1 426.9L275.3 425.2L275.6 423.5L275.9 421.5L276.2 419.4L276.5 417.3L276.8 415.2L277.1 413.1L277.4 411.0L277.7 408.9L278.0 406.8L278.3 404.9L278.7 403.0L279.0 401.1L279.4 399.2L279.8 397.3L280.1 395.5L280.4 393.6L280.7 391.7L280.9 389.8L281.2 388.0L281.3 386.1L281.5 384.2L281.7 382.3L281.8 380.5L282.0 378.6L282.2 376.7L282.4 374.8L282.6 372.8L282.8 370.9L283.0 369.0L283.3 367.0L283.5 365.1L283.7 363.1L284.0 361.1L284.3 359.0L284.6 356.8L285.0 354.6L285.4 352.4L285.7 350.2L286.1 348.0L286.5 345.8L286.8 343.6L287.1 341.5L287.4 339.4L287.8 337.3L288.1 335.3L288.4 333.2L288.7 331.1L289.0 329.0L289.3 326.8L289.6 324.5L289.9 322.1L290.2 319.6L290.5 317.2L290.8 314.8L291.1 312.3L291.5 309.9L291.8 307.6L292.1 305.5L292.5 303.3L292.9 301.2L293.2 299.1L293.6 297.1L294.0 295.0L294.3 293.0L294.7 290.9L295.0 288.9L295.3 286.9L295.6 284.9L295.9 282.9L296.2 280.9L296.5 279.0L296.8 277.0L297.2 275.1L297.6 273.3L298.1 271.5L298.6 269.7L299.1 267.9L299.6 266.1L300.1 264.4L300.6 262.6L301.0 260.9L301.4 259.2L301.7 257.6L302.0 256.0L302.3 254.3L302.7 252.7L303.0 251.1L303.4 249.4L303.8 247.8L304.3 246.1L304.8 244.3L305.3 242.6L305.8 240.9L306.4 239.1L307.0 237.4L307.7 235.7L308.5 234.1L309.4 232.4L310.3 230.7L311.4 229.0L312.4 227.3L313.5 225.6L314.6 224.1L315.7 222.7L316.8 221.5L317.5 220.8L318.2 220.1L318.9 219.5L319.6 218.9L320.4 218.4L321.1 217.9L321.8 217.5L322.5 217.0L323.1 216.6L323.8 216.2L324.4 215.8L325.0 215.5L325.7 215.1L326.3 214.9L327.0 214.7L327.7 214.5L328.5 214.4L329.3 214.4L330.2 214.5L331.0 214.6L331.9 214.8L332.8 215.0L333.6 215.1L334.5 215.3L335.4 215.4L336.3 215.5L337.1 215.6L338.0 215.8L338.9 215.9L339.8 216.1L340.6 216.4L341.5 216.8L342.6 217.4L343.6 218.2L344.7 219.1L345.7 220.1L346.8 221.2L347.8 222.3L348.9 223.3L349.9 224.4L351.0 225.5L352.1 226.7L353.3 227.9L354.4 229.1L355.5 230.3L356.6 231.5L357.8 232.7L358.9 233.9L360.1 235.1L361.2 236.4L362.4 237.6L363.6 238.8L364.8 240.0L366.0 241.2L367.3 242.4L368.6 243.6L370.1 244.8L371.6 246.0L373.2 247.2L374.8 248.4L376.4 249.6L378.0 250.7L379.6 251.8L381.1 252.8L382.4 253.6L383.7 254.4L385.0 255.1L386.2 255.8L387.5 256.5L388.7 257.3L390.0 258.0L391.2 258.9L392.5 259.9L393.7 261.0L394.8 262.2L396.0 263.4L397.2 264.6L398.4 265.8L399.7 266.9L401.1 268.0L402.9 269.2L404.8 270.3L406.7 271.3L408.8 272.3L410.9 273.3L413.0 274.4L415.0 275.5L417.0 276.7L419.0 278.1L421.0 279.5L423.0 281.1L425.0 282.7L427.0 284.2L429.0 285.7L430.9 287.2L432.8 288.5L434.4 289.5L435.9 290.4L437.5 291.3L439.0 292.1L440.5 292.9L442.1 293.7L443.7 294.6L445.3 295.6L447.4 296.9L449.6 298.3L451.8 299.8L454.1 301.3L456.3 302.8L458.6 304.3L460.8 305.9L463.0 307.4L465.1 308.9L467.1 310.4L469.1 311.9L471.1 313.5L473.1 315.0L475.0 316.5L477.0 317.9L478.9 319.2L480.5 320.3L482.2 321.2L483.7 322.2L485.3 323.1L486.9 323.9L488.5 324.8L490.2 325.8L491.9 326.8L494.1 328.1L496.3 329.4L498.6 330.8L501.0 332.2L503.3 333.7L505.7 335.1L508.0 336.6L510.2 338.0L512.3 339.4L514.4 340.8L516.5 342.2L518.5 343.6L520.5 344.9L522.5 346.3L524.3 347.6L526.1 348.8L527.3 349.7L528.5 350.4L529.5 351.2L530.6 351.9L531.6 352.7L532.7 353.4L533.9 354.2L535.1 355.1L537.0 356.4L539.0 357.8L541.1 359.3L543.2 360.8L545.4 362.4L547.7 363.9L549.9 365.5L552.0 367.0L554.1 368.5L556.2 370.1L558.3 371.7L560.4 373.3L562.5 374.9L564.6 376.4L566.7 377.8L568.8 379.0L570.6 379.9L572.4 380.8L574.2 381.6L576.0 382.3L577.9 382.9L579.7 383.6L581.6 384.2L583.6 384.9L586.0 385.7L588.4 386.4L590.9 387.1L593.5 387.8L596.0 388.5L598.6 389.2L601.1 390.0L603.6 390.8L606.0 391.6L608.3 392.5L610.7 393.4L613.0 394.3L615.3 395.3L617.6 396.2L619.8 397.1L622.0 397.9L623.9 398.6L625.7 399.4L627.5 400.1L629.3 400.8L631.1 401.5L632.9 402.1L634.8 402.7L636.7 403.3L638.9 403.9L641.2 404.5L643.5 405.0L645.9 405.5L648.3 405.9L650.7 406.3L653.1 406.7L655.5 407.0L658.0 407.2L660.6 407.4L663.2 407.4L665.8 407.5L668.3 407.5L670.8 407.5L673.3 407.6L675.6 407.8L677.4 408.0L679.1 408.2L680.7 408.5L682.3 408.8L683.9 409.1L685.5 409.4L687.3 409.8L689.1 410.1L691.8 410.6L694.6 411.2L697.6 411.8L700.7 412.5L703.8 413.2L706.9 413.8L710.0 414.3L713.0 414.8L715.8 415.2L718.6 415.4L721.4 415.7L724.1 415.9L726.9 416.1L729.5 416.3L732.2 416.5L734.7 416.7L736.8 416.9L738.9 417.0L741.0 417.2L743.0 417.3L745.0 417.5L746.9 417.8L748.7 418.1L750.5 418.6L751.9 419.1L753.2 419.7L754.4 420.3L755.6 421.0L756.8 421.7L758.0 422.4L759.3 423.1L760.6 423.8L762.5 424.8L764.8 425.9L767.3 427.1L769.7 428.2L772.0 429.3L773.8 430.2L775.0 430.8L775.5 431.0" stroke="#008000" stroke-dasharray="20.4 13.5 5.9 14.4 5.5 14 21.2 10 5.5 7.9 5.5 14.1 17.1 10.1 5.5 10.2 5.5 10.8 15.3 11.7 5.5 9.8 5.5 9.8 19.4 10.7 5.5 11.4 5.5 12.6 15.1 13 5.5 12.2 5.5 14.2 19.4 14.2 5.5 10.5 5.5 12 13.4 11.8 5.5 9.6 5.5 10.4 14.1 8.6 5.5 7.6 5.5 11 15.8 8.7 5.5 8.1 5.5 8.5 14.2 9.7 5.5 8.9 5.5 9.9 17 8.5 5.5 9.8 5.5 11 15.6 8.4 5.5 5.7 5.5 10.8 15.3 9.6 5.5 10.5 5.5 11.9 12.5 10.7 5.5 10.2 5.5 9.3 14.2 10.3 5.5 8.2 5.5 12.9 17.5 10.3 5.5 10.5 5.5 8.6 16.6 2000"/>
<path d="M126.8 601.5L127.5 601.5L129.3 601.5L132.1 601.5L135.4 601.5L139.2 601.5L143.1 601.5L146.7 601.5L150.0 601.5L153.2 601.5L156.5 601.6L159.9 601.6L163.3 601.6L166.6 601.7L169.7 601.7L172.5 601.6L175.0 601.5L176.2 601.4L177.4 601.3L178.5 601.3L179.5 601.2L180.4 601.0L181.3 600.9L182.2 600.7L183.0 600.5L183.6 600.3L184.1 600.1L184.7 599.9L185.2 599.7L185.6 599.4L186.1 599.2L186.6 598.8L187.0 598.5L187.5 598.1L188.0 597.6L188.4 597.1L188.9 596.6L189.3 596.0L189.7 595.4L190.1 594.7L190.5 594.0L191.1 592.7L191.6 591.3L192.1 589.8L192.5 588.1L193.0 586.4L193.4 584.6L193.9 582.8L194.3 581.0L194.8 578.9L195.3 576.7L195.8 574.5L196.3 572.2L196.8 569.8L197.3 567.5L197.7 565.1L198.2 562.8L198.7 560.3L199.1 557.9L199.5 555.4L200.0 552.9L200.4 550.3L200.8 547.8L201.2 545.2L201.6 542.7L202.0 540.1L202.4 537.4L202.8 534.7L203.2 532.1L203.6 529.4L204.0 526.7L204.4 524.1L204.8 521.5L205.2 519.1L205.5 516.7L205.9 514.4L206.2 512.0L206.5 509.7L206.9 507.3L207.2 505.0L207.5 502.6L207.8 500.1L208.1 497.6L208.4 495.2L208.7 492.7L209.0 490.2L209.2 487.6L209.5 485.1L209.8 482.5L210.1 479.7L210.4 476.9L210.7 474.1L210.9 471.2L211.2 468.3L211.5 465.5L211.8 462.7L212.1 460.0L212.4 457.6L212.7 455.2L213.0 452.9L213.3 450.6L213.6 448.3L213.9 446.0L214.2 443.6L214.5 441.2L214.8 438.5L215.1 435.7L215.4 432.9L215.6 430.1L215.9 427.2L216.2 424.4L216.5 421.6L216.8 418.8L217.1 416.1L217.5 413.4L217.8 410.7L218.2 408.0L218.5 405.4L218.9 402.7L219.2 400.1L219.6 397.5L219.9 395.1L220.3 392.7L220.6 390.3L221.0 388.0L221.3 385.7L221.7 383.3L222.0 381.0L222.4 378.6L222.8 376.2L223.2 373.8L223.5 371.4L223.9 369.0L224.3 366.6L224.7 364.1L225.1 361.7L225.5 359.3L225.9 356.9L226.3 354.4L226.6 352.0L227.0 349.5L227.4 347.1L227.8 344.6L228.2 342.2L228.7 339.7L229.2 337.1L229.7 334.5L230.2 331.9L230.8 329.3L231.4 326.7L232.0 324.1L232.6 321.6L233.3 319.1L234.0 316.8L234.6 314.4L235.3 312.0L235.9 309.7L236.7 307.5L237.5 305.3L238.4 303.2L239.5 301.2L240.6 299.5L241.7 297.8L242.9 296.2L244.2 294.7L245.6 293.3L247.0 291.9L248.5 290.6L250.0 289.3L251.7 288.0L253.5 286.9L255.3 285.7L257.2 284.7L259.2 283.7L261.2 282.8L263.1 282.0L265.1 281.2L267.0 280.5L268.9 279.9L270.8 279.4L272.7 278.9L274.6 278.5L276.6 278.2L278.6 277.9L280.6 277.7L282.8 277.6L285.1 277.5L287.5 277.6L289.8 277.7L292.2 277.8L294.6 278.0L296.9 278.3L299.2 278.5L301.4 278.7L303.6 279.0L305.8 279.4L308.0 279.7L310.2 280.1L312.4 280.5L314.5 280.9L316.6 281.3L318.5 281.7L320.5 282.1L322.3 282.5L324.2 282.9L326.1 283.4L327.9 283.8L329.8 284.3L331.7 284.9L333.7 285.5L335.7 286.1L337.8 286.8L339.8 287.5L341.9 288.2L343.9 289.0L345.9 289.9L347.8 290.8L349.7 291.8L351.7 292.9L353.6 294.0L355.5 295.2L357.4 296.4L359.2 297.7L361.0 298.9L362.7 300.2L364.3 301.4L365.8 302.7L367.3 303.9L368.8 305.2L370.2 306.5L371.6 307.9L373.1 309.2L374.5 310.5L375.9 311.8L377.3 313.1L378.7 314.5L380.1 315.8L381.5 317.2L382.9 318.5L384.3 319.8L385.8 321.1L387.3 322.4L388.8 323.7L390.4 324.9L391.9 326.2L393.5 327.4L395.0 328.6L396.6 329.8L398.1 331.0L399.6 332.1L401.0 333.3L402.5 334.4L404.0 335.5L405.4 336.6L406.9 337.6L408.4 338.7L409.9 339.8L411.4 340.9L413.0 342.0L414.5 343.1L416.1 344.1L417.7 345.2L419.2 346.3L420.8 347.4L422.4 348.5L424.0 349.6L425.6 350.8L427.3 351.9L428.9 353.1L430.5 354.2L432.2 355.4L433.8 356.5L435.4 357.7L437.0 358.9L438.7 360.1L440.3 361.3L441.9 362.5L443.5 363.8L445.1 365.0L446.8 366.2L448.4 367.5L450.1 368.8L451.9 370.1L453.6 371.5L455.4 372.8L457.1 374.1L458.8 375.5L460.5 376.9L462.1 378.3L463.6 379.7L465.0 381.1L466.4 382.5L467.8 383.9L469.1 385.3L470.5 386.8L471.8 388.2L473.2 389.6L474.6 391.0L476.0 392.5L477.4 393.9L478.8 395.3L480.2 396.8L481.6 398.2L483.1 399.5L484.5 400.9L485.9 402.2L487.4 403.4L488.8 404.7L490.3 405.9L491.8 407.1L493.2 408.3L494.7 409.5L496.1 410.8L497.5 412.1L499.0 413.5L500.4 414.9L501.8 416.3L503.2 417.7L504.6 419.1L506.0 420.5L507.4 421.9L508.8 423.3L510.2 424.6L511.5 426.0L512.9 427.3L514.3 428.7L515.7 430.0L517.1 431.3L518.5 432.6L519.9 433.8L521.3 435.0L522.7 436.2L524.2 437.4L525.6 438.6L527.0 439.7L528.5 440.9L529.9 442.2L531.4 443.6L533.0 445.1L534.5 446.6L536.1 448.1L537.7 449.6L539.2 451.1L540.8 452.5L542.4 453.8L543.9 455.0L545.4 456.1L546.8 457.3L548.3 458.3L549.9 459.4L551.4 460.4L553.0 461.4L554.7 462.3L556.6 463.3L558.6 464.2L560.6 465.0L562.7 465.9L564.8 466.6L567.0 467.4L569.1 468.1L571.2 468.7L573.3 469.3L575.4 469.7L577.5 470.1L579.6 470.5L581.7 470.9L583.8 471.2L585.8 471.7L587.7 472.2L589.3 472.7L590.8 473.3L592.3 473.9L593.7 474.5L595.2 475.2L596.7 475.8L598.3 476.4L600.0 477.0L602.5 477.7L605.3 478.4L608.3 479.0L611.3 479.7L614.4 480.3L617.4 481.0L620.3 481.8L623.0 482.6L625.2 483.4L627.4 484.3L629.5 485.1L631.6 486.1L633.6 487.0L635.6 488.0L637.6 489.0L639.6 490.0L641.4 491.0L643.2 492.0L645.0 493.1L646.7 494.2L648.5 495.3L650.2 496.4L652.0 497.3L653.8 498.2L655.6 498.9L657.5 499.6L659.3 500.1L661.2 500.6L663.1 501.2L664.9 501.7L666.7 502.3L668.5 503.0L670.2 503.7L671.8 504.5L673.4 505.3L675.0 506.2L676.5 507.0L678.1 508.0L679.6 509.0L681.0 510.0L682.4 511.1L683.7 512.4L685.0 513.7L686.3 515.0L687.5 516.4L688.8 517.7L690.1 519.0L691.5 520.3L693.1 521.6L694.7 522.8L696.4 524.0L698.1 525.3L699.8 526.4L701.6 527.6L703.3 528.8L705.0 530.0L706.8 531.2L708.6 532.4L710.5 533.7L712.3 534.9L714.1 536.1L715.8 537.2L717.4 538.3L718.7 539.3L719.4 539.9L720.2 540.5L720.9 541.1L721.6 541.7L722.1 542.2L722.6 542.6L722.9 542.9L723.0 543.0" stroke="#000080" stroke-dasharray="13.2 9.7 9.3 6.9 9.3 7.6 9.3 9.9 9.3 10.2 9.3 10.6 9.3 11.8 9.3 9.2 9.3 13.5 9.3 11.3 9.3 11.3 9.3 11.7 9.3 12.2 9.3 9.9 9.3 10.9 9.3 10.8 9.3 11.4 9.3 9 9.3 7.4 8.6 8.3 8.6 7.3 8.6 10.1 8.6 9.1 8.6 6.9 8.6 9 7.9 9.7 7.9 7.8 7.9 7.6 7.9 7.9 7.9 6.7 7.9 7.4 7.9 8.2 7.9 8.3 7.9 9.4 7.9 7.9 7.9 8.1 7.9 7.4 7.9 7.9 7.9 7.5 7.9 7 7.9 9.2 7.9 7.1 7.9 9.8 7.9 9 7.9 11.2 9.3 7.8 9.3 8.2 9.3 7.8 9.3 8.9 5 8.5 5 7.9 9.3 7.4 9.3 7.2 9.3 2000"/>
</g>
<g opacity="0.999" font-family="'Liberation Serif', 'Times New Roman', serif" font-size="39" fill="#000">
<text x="126.8" y="648.7" text-anchor="middle">0</text>
<text x="274.7" y="648.7" text-anchor="middle">2</text>
<text x="422.7" y="648.7" text-anchor="middle">4</text>
<text x="570.6" y="648.7" text-anchor="middle">6</text>
<text x="718.6" y="648.7" text-anchor="middle">8</text>
<text x="867.7" y="648.7" text-anchor="middle">10</text>
<text x="110.5" y="615.7" text-anchor="end">0.0</text>
<text x="110.5" y="518.6" text-anchor="end">0.5</text>
<text x="110.5" y="421.4" text-anchor="end">1.0</text>
<text x="110.5" y="324.2" text-anchor="end">1.5</text>
<text x="110.5" y="227.1" text-anchor="end">2.0</text>
<text x="110.5" y="129.9" text-anchor="end">2.5</text>
<text x="110.5" y="32.8" text-anchor="end">3.0</text>
<text x="381.3" y="707">Strain /</text>
<text transform="translate(506.5 707) scale(1.07 1)" font-family="'Noto Sans CJK SC', 'Liberation Sans', Arial, sans-serif" font-weight="bold" font-size="34.5">%</text>
<text transform="translate(32 290.7) rotate(-90)" text-anchor="middle" font-size="38.4">Stress / MPa</text>
</g>
<g fill="none" stroke-width="5.5">
<path d="M621.7 47.5H687.8" stroke="#000"/>
<path d="M621.7 83.7H687.8" stroke="#ff0000" stroke-dasharray="23.5 25.5"/>
<path d="M621.7 119.8H687.8" stroke="#0000ff" stroke-dasharray="6.5 22.8"/>
<path d="M621.7 156.1H687.8" stroke="#ff00ff" stroke-dasharray="28 14 6 13.5"/>
<path d="M621.7 191.8H687.8" stroke="#008000" stroke-dasharray="20.5 14.5 6 13.2 6 13.2"/>
<path d="M621.7 228.3H687.8" stroke="#000080" stroke-dasharray="10.3 12.5"/>
</g>
<g opacity="0.999" font-family="'Liberation Serif', 'Times New Roman', serif" font-size="29" fill="#000">
<text x="694.5" y="57.2">Control group</text>
<text x="694.5" y="93.4">5</text>
<text transform="translate(717.5 93.4) scale(1.07 1)" font-family="'Noto Sans CJK SC', 'Liberation Sans', Arial, sans-serif" font-weight="bold" font-size="26">%</text>
<text x="694.5" y="129.5">10</text>
<text transform="translate(724.8 129.5) scale(1.07 1)" font-family="'Noto Sans CJK SC', 'Liberation Sans', Arial, sans-serif" font-weight="bold" font-size="26">%</text>
<text x="694.5" y="165.8">15</text>
<text transform="translate(724.8 165.8) scale(1.07 1)" font-family="'Noto Sans CJK SC', 'Liberation Sans', Arial, sans-serif" font-weight="bold" font-size="26">%</text>
<text x="694.5" y="201.5">20</text>
<text transform="translate(724.8 201.5) scale(1.07 1)" font-family="'Noto Sans CJK SC', 'Liberation Sans', Arial, sans-serif" font-weight="bold" font-size="26">%</text>
<text x="694.5" y="238.0">30</text>
<text transform="translate(724.8 238.0) scale(1.07 1)" font-family="'Noto Sans CJK SC', 'Liberation Sans', Arial, sans-serif" font-weight="bold" font-size="26">%</text>
</g>
</svg>
</body></html>
